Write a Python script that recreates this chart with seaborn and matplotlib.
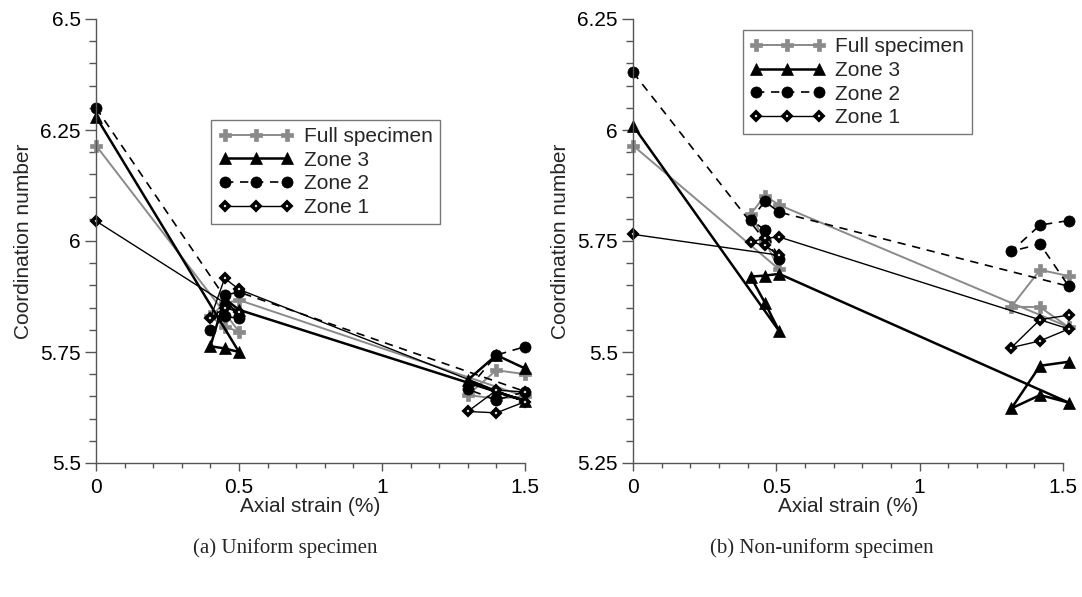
import matplotlib
matplotlib.use("Agg")
import matplotlib.pyplot as plt
import seaborn as sns
import numpy as np
from matplotlib.ticker import MultipleLocator, FuncFormatter

# ---- data ----
strain_a = [0, 0.5, 0.45, 0.4, 0.45, 0.5, 1.5, 1.4, 1.3, 1.4, 1.5]
full_a  = [6.215, 5.796, 5.807, 5.83, 5.86, 5.867, 5.65, 5.645, 5.653, 5.709, 5.70]
zone3_a = [6.28, 5.75, 5.758, 5.763, 5.87, 5.845, 5.64, 5.66, 5.687, 5.743, 5.713]
zone2_a = [6.30, 5.826, 5.83, 5.80, 5.878, 5.885, 5.661, 5.642, 5.666, 5.743, 5.762]
zone1_a = [6.045, 5.84, 5.85, 5.826, 5.916, 5.891, 5.638, 5.613, 5.616, 5.664, 5.66]

strain_b = [0, 0.51, 0.46, 0.41, 0.46, 0.51, 1.52, 1.42, 1.32, 1.42, 1.52]
full_b  = [5.965, 5.686, 5.75, 5.81, 5.852, 5.831, 5.556, 5.601, 5.602, 5.685, 5.671]
zone3_b = [6.01, 5.547, 5.611, 5.67, 5.672, 5.676, 5.386, 5.403, 5.373, 5.469, 5.478]
zone2_b = [6.13, 5.71, 5.775, 5.798, 5.839, 5.815, 5.648, 5.743, 5.727, 5.786, 5.796]
zone1_b = [5.765, 5.718, 5.74, 5.748, 5.756, 5.759, 5.552, 5.525, 5.51, 5.573, 5.583]

labels = ["Full specimen", "Zone 3", "Zone 2", "Zone 1"]
ylims = [(5.5, 6.5), (5.25, 6.25)]
captions = ["(a) Uniform specimen", "(b) Non-uniform specimen"]

sns.set_theme(style="white")
plt.rcParams['font.family'] = ['Liberation Sans', 'DejaVu Sans']

FS = 15

styles = [
    dict(color="#8a8a8a", lw=1.4, ls="-", marker="P", ms=8.5, mfc="#8a8a8a", mec="#8a8a8a", mew=0.5),
    dict(color="black", lw=1.8, ls="-", marker="^", ms=8.5, mfc="black", mec="black", mew=0.5),
    dict(color="black", lw=1.2, ls=(0, (5, 4)), marker="o", ms=8, mfc="black", mec="black", mew=0.5),
    dict(color="black", lw=1.0, ls="-", marker="D", ms=3.8, mfc="white", mec="black", mew=2.6),
]

fig = plt.figure(figsize=(10.82, 5.97), dpi=100)
ax_a = fig.add_axes([96/1082, 134/597, 429/1082, 444/597])
ax_b = fig.add_axes([633/1082, 134/597, 430/1082, 444/597])

panels = [
    (ax_a, strain_a, [full_a, zone3_a, zone2_a, zone1_a]),
    (ax_b, strain_b, [full_b, zone3_b, zone2_b, zone1_b]),
]

def fmt(v, pos):
    s = f"{v:.2f}".rstrip("0").rstrip(".")
    return s

spine_col = "#555555"
for i, (ax, xs, series) in enumerate(panels):
    for lab, ys, st in zip(labels, series, styles):
        sns.lineplot(x=xs, y=ys, ax=ax, sort=False, estimator=None,
                     label=lab, color=st["color"], linewidth=st["lw"],
                     linestyle=st["ls"], marker=st["marker"], markersize=st["ms"],
                     markerfacecolor=st["mfc"], markeredgecolor=st["mec"],
                     markeredgewidth=st["mew"], clip_on=False, legend=True)
    ax.set_xlim(0, 1.5)
    ax.set_ylim(*ylims[i])
    ax.xaxis.set_major_locator(MultipleLocator(0.5))
    ax.xaxis.set_minor_locator(MultipleLocator(0.1))
    ax.yaxis.set_major_locator(MultipleLocator(0.25))
    ax.yaxis.set_minor_locator(MultipleLocator(0.05))
    ax.xaxis.set_major_formatter(FuncFormatter(fmt))
    ax.yaxis.set_major_formatter(FuncFormatter(fmt))
    for s in ["top", "right"]:
        ax.spines[s].set_visible(False)
    for s in ["left", "bottom"]:
        ax.spines[s].set_color(spine_col)
        ax.spines[s].set_linewidth(1.0)
    ax.tick_params(axis="both", which="both", direction="out", color=spine_col,
                   labelsize=FS, labelcolor="black", bottom=True, left=True)
    ax.tick_params(axis="x", which="major", length=6, width=1, pad=5)
    ax.tick_params(axis="x", which="minor", length=3.5, width=1)
    ax.tick_params(axis="y", which="major", length=8, width=1, pad=3)
    ax.tick_params(axis="y", which="minor", length=5, width=1)
    ax.set_xlabel("Axial strain (%)", fontsize=FS, labelpad=0)
    ax.set_ylabel("Coordination number", fontsize=FS, labelpad=5)
    ax.grid(False)

leg_kw = dict(loc="upper left", frameon=True, fancybox=False, edgecolor="#555555",
              fontsize=FS, numpoints=3, handlelength=3.6, handletextpad=0.5,
              labelspacing=0.22, borderpad=0.35, borderaxespad=0)
leg_a = ax_a.legend(bbox_to_anchor=(0.268, 0.773), **leg_kw)
leg_b = ax_b.legend(bbox_to_anchor=(0.255, 0.975), **leg_kw)
for leg in (leg_a, leg_b):
    leg.get_frame().set_linewidth(1.0)

fig.text(285/1082, 1 - 548/597, captions[0], ha="center", va="center",
         fontsize=15, family=["Liberation Serif", "DejaVu Serif"])
fig.text(822/1082, 1 - 548/597, captions[1], ha="center", va="center",
         fontsize=15, family=["Liberation Serif", "DejaVu Serif"])

fig.savefig("out.png", dpi=100)
